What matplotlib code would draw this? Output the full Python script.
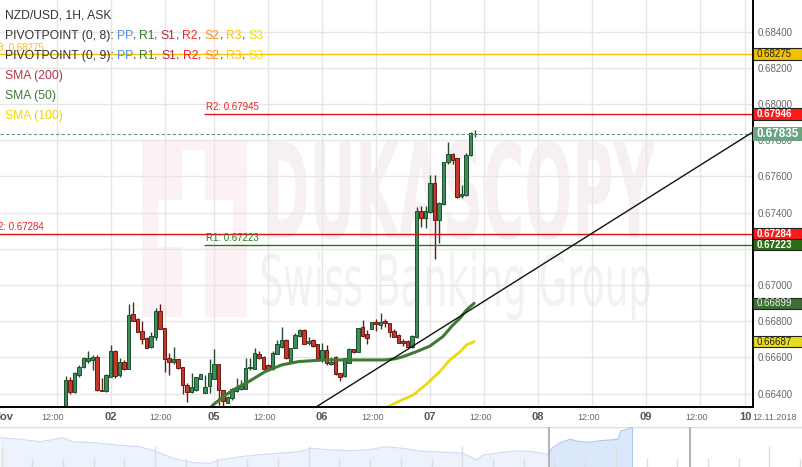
import matplotlib
matplotlib.use('Agg')
import matplotlib.pyplot as plt
from matplotlib.patches import Rectangle, PathPatch
from matplotlib.textpath import TextPath
from matplotlib.font_manager import FontProperties
from matplotlib.transforms import Affine2D
import numpy as np

plt.rcParams['font.family'] = ['Liberation Sans', 'DejaVu Sans']

# ---------------- data ----------------
# hourly candles, x = trading hours since 01 Nov 00:00 (weekend compressed)
candle_hours = list(range(14, 106))
opens = [0.66299, 0.66476, 0.66411, 0.66503, 0.66546, 0.66580, 0.66588, 0.66602, 0.66422, 0.66413,
         0.66494, 0.66636, 0.66501, 0.66575, 0.66534, 0.66840, 0.66811, 0.66748, 0.66706, 0.66656,
         0.66711, 0.66857, 0.66761, 0.66595, 0.66576, 0.66590, 0.66549, 0.66446, 0.66411, 0.66420,
         0.66479, 0.66402, 0.66442, 0.66479, 0.66563, 0.66420, 0.66348, 0.66374, 0.66416, 0.66424,
         0.66427, 0.66540, 0.66538, 0.66621, 0.66603, 0.66558, 0.66535, 0.66621, 0.66656, 0.66697,
         0.66580, 0.66651, 0.66719, 0.66752, 0.66678, 0.66697, 0.66674, 0.66586, 0.66641, 0.66562,
         0.66601, 0.66516, 0.66498, 0.66571, 0.66645, 0.66629, 0.66767, 0.66730, 0.66756, 0.66794,
         0.66779, 0.66801, 0.66792, 0.66748, 0.66724, 0.66691, 0.66688, 0.66656, 0.66711, 0.67411,
         0.67369, 0.67405, 0.67562, 0.67360, 0.67448, 0.67682, 0.67723, 0.67701, 0.67493, 0.67498,
         0.67719, 0.67832]
highs = [0.66498, 0.66490, 0.66521, 0.66557, 0.66600, 0.66636, 0.66612, 0.66613, 0.66488, 0.66506,
         0.66669, 0.66641, 0.66595, 0.66586, 0.66894, 0.66907, 0.66817, 0.66799, 0.66711, 0.66742,
         0.66872, 0.66894, 0.66761, 0.66626, 0.66659, 0.66594, 0.66549, 0.66457, 0.66516, 0.66492,
         0.66508, 0.66503, 0.66589, 0.66644, 0.66563, 0.66420, 0.66387, 0.66431, 0.66485, 0.66476,
         0.66598, 0.66598, 0.66654, 0.66636, 0.66608, 0.66563, 0.66636, 0.66695, 0.66770, 0.66700,
         0.66651, 0.66734, 0.66756, 0.66755, 0.66711, 0.66700, 0.66674, 0.66678, 0.66669, 0.66604,
         0.66608, 0.66516, 0.66595, 0.66651, 0.66645, 0.66761, 0.66807, 0.66752, 0.66794, 0.66811,
         0.66843, 0.66811, 0.66792, 0.66756, 0.66730, 0.66700, 0.66697, 0.66724, 0.67430, 0.67438,
         0.67438, 0.67608, 0.67608, 0.67461, 0.67682, 0.67793, 0.67729, 0.67704, 0.67554, 0.67729,
         0.67847, 0.67856]
lows = [0.66288, 0.66396, 0.66405, 0.66494, 0.66542, 0.66571, 0.66532, 0.66416, 0.66412, 0.66409,
        0.66490, 0.66486, 0.66494, 0.66531, 0.66534, 0.66803, 0.66742, 0.66675, 0.66650, 0.66650,
        0.66696, 0.66756, 0.66521, 0.66503, 0.66564, 0.66537, 0.66398, 0.66356, 0.66402, 0.66417,
        0.66478, 0.66402, 0.66403, 0.66479, 0.66337, 0.66328, 0.66347, 0.66365, 0.66409, 0.66420,
        0.66424, 0.66531, 0.66535, 0.66590, 0.66531, 0.66526, 0.66530, 0.66621, 0.66651, 0.66590,
        0.66577, 0.66651, 0.66715, 0.66672, 0.66669, 0.66656, 0.66586, 0.66577, 0.66558, 0.66558,
        0.66503, 0.66472, 0.66494, 0.66571, 0.66623, 0.66629, 0.66715, 0.66672, 0.66756, 0.66748,
        0.66756, 0.66767, 0.66715, 0.66711, 0.66678, 0.66665, 0.66651, 0.66651, 0.66706, 0.67319,
        0.67314, 0.67396, 0.67142, 0.67234, 0.67442, 0.67668, 0.67668, 0.67480, 0.67482, 0.67493,
        0.67713, 0.67816]
closes = [0.66476, 0.66411, 0.66513, 0.66546, 0.66595, 0.66599, 0.66602, 0.66420, 0.66414, 0.66501,
          0.66636, 0.66498, 0.66575, 0.66534, 0.66835, 0.66803, 0.66742, 0.66700, 0.66650, 0.66718,
          0.66857, 0.66756, 0.66590, 0.66576, 0.66590, 0.66540, 0.66448, 0.66411, 0.66435, 0.66490,
          0.66507, 0.66435, 0.66515, 0.66563, 0.66420, 0.66357, 0.66383, 0.66423, 0.66438, 0.66440,
          0.66543, 0.66547, 0.66623, 0.66596, 0.66535, 0.66536, 0.66627, 0.66673, 0.66697, 0.66595,
          0.66651, 0.66724, 0.66752, 0.66674, 0.66693, 0.66664, 0.66595, 0.66641, 0.66568, 0.66577,
          0.66509, 0.66490, 0.66595, 0.66645, 0.66629, 0.66761, 0.66719, 0.66706, 0.66794, 0.66783,
          0.66797, 0.66788, 0.66742, 0.66715, 0.66682, 0.66677, 0.66655, 0.66719, 0.67411, 0.67369,
          0.67411, 0.67562, 0.67360, 0.67452, 0.67682, 0.67723, 0.67692, 0.67489, 0.67504, 0.67719,
          0.67842, 0.67835]

sma50_hours = [45.7, 46.8, 49.0, 51.3, 54.7, 58.4, 62.1, 65.8, 71.4, 84.9, 87.2, 89.0, 92.1,
               95.0, 97.9, 99.9, 101.7, 103.1, 104.8]
sma50_vals = [0.66310, 0.66338, 0.66382, 0.66421, 0.66466, 0.66522, 0.66559, 0.66577, 0.66586,
              0.66586, 0.66592, 0.66604, 0.66633, 0.66663, 0.66716, 0.66774, 0.66818, 0.66862, 0.66899]
sma100_hours = [84.6, 85.7, 88.3, 91.3, 94.3, 97.2, 99.4, 101.7, 103.1, 104.8]
sma100_vals = [0.66310, 0.66328, 0.66360, 0.66393, 0.66454, 0.66522, 0.66586, 0.66632, 0.66669, 0.66687]

trend_hours = [69.8, 166.84]
trend_vals = [0.66328, 0.67847]

# pivot levels: value, colour, start hour, label
pivot_vals = [0.68275, 0.67945, 0.67284, 0.67223]
pivot_colors = ['#f5c000', '#ee1111', '#dd1111', '#2a7a1a']
pivot_start = [-1.0, 44.7, -1.0, 44.7]
pivot_labels = ['R3: 0.68275', 'R2: 0.67945', 'R2: 0.67284', 'R1: 0.67223']

current_price = 0.67835

y_ticks = [0.664, 0.666, 0.668, 0.670, 0.674, 0.676, 0.678, 0.680, 0.682, 0.684]
grid_y = [0.664, 0.666, 0.668, 0.670, 0.672, 0.674, 0.676, 0.678, 0.680, 0.682, 0.684]
day_hours = [0, 24, 47, 71, 95, 119, 143, 165]
day_labels = ['Nov', '02', '05', '06', '07', '08', '09', '10']
half_hours = [12, 36, 59, 83, 107, 131, 155]
half_label = '12:00'

box_texts = ['0.68275', '0.67946', '0.67284', '0.67223', '0.66899', '0.66687']
box_faces = ['#f5c000', '#ff1a1a', '#ff1a1a', '#2c6e14', '#3f6e35', '#e8dc1c']
box_text_colors = ['#222222', 'white', 'white', 'white', '#f0f0f0', '#222222']

nav_pos = [0, 20, 40, 50, 62, 73, 93, 117, 140, 157, 173, 193, 210, 220, 240, 257, 277, 300, 310, 333,
           353, 373, 383, 400, 420, 440, 462, 477, 483, 500, 517, 533, 548, 552, 560, 570, 580, 590, 600, 610,
           618, 621, 627, 632]
nav_val = [29.3, 27.7, 25.3, 27.0, 29.3, 25.3, 24.3, 22.0, 20.3, 15.3, 8.7, 4.3, 3.7, 7.0, 10.3, 12.0, 13.7, 15.3, 18.7, 17.0,
           16.3, 17.7, 20.3, 19.0, 16.0, 15.0, 14.0, 7.0, 12.0, 14.3, 16.3, 15.3, 12.7, 18.7, 24.3, 27.7, 25.3, 24.7, 26.3, 27.0,
           27.7, 36.0, 37.7, 39.3]

# ---------------- figure ----------------
W, H = 803, 467
fig = plt.figure(figsize=(W / 100, H / 100), dpi=100)
fig.patch.set_facecolor('white')
pxT = Affine2D().scale(1.0 / W, -1.0 / H).translate(0, 1) + fig.transFigure

# watermark (decorative)
fig.add_artist(Rectangle((142, 140), 105, 177, transform=pxT, facecolor='#fcf1f3', edgecolor='none', zorder=-2))
fig.add_artist(Rectangle((182, 150), 23, 167, transform=pxT, facecolor='white', edgecolor='none', zorder=-1.9))
fig.add_artist(Rectangle((158, 200), 75, 47, transform=pxT, facecolor='white', edgecolor='none', zorder=-1.9))


def fit_text(s, box, color, weight='normal', z=-1.5):
    tp = TextPath((0, 0), s, size=100, prop=FontProperties(family='DejaVu Sans', weight=weight))
    ext = tp.get_extents()
    x0, y0, x1, y1 = box
    sx = (x1 - x0) / ext.width
    sy = (y1 - y0) / ext.height
    tr = Affine2D().translate(-ext.x0, -ext.y0).scale(sx, -sy).translate(x0, y1) + pxT
    fig.add_artist(PathPatch(tp, transform=tr, facecolor=color, edgecolor='none', zorder=z))


fit_text('DUKASCOPY', (268, 140, 655, 240), '#f7f0f2', weight='bold')
fit_text('Swiss Banking Group', (262, 252, 650, 320), '#f2f2f2')

ax = fig.add_axes([0, 60 / H, 753.3 / W, 407 / H])
ax.patch.set_visible(False)
ax.set_xlim(-0.556, 166.84)
ax.set_ylim(0.66326, 0.68575)
for s in ['left', 'top']:
    ax.spines[s].set_visible(False)
for s in ['bottom', 'right']:
    ax.spines[s].set_color('black')
    ax.spines[s].set_linewidth(1.4)
    ax.spines[s].set_zorder(10)

ax.set_yticks(grid_y)
ax.set_yticklabels([f'{v:.5f}' if v in y_ticks else '' for v in grid_y])
ax.yaxis.tick_right()
ax.tick_params(axis='y', length=0, pad=3.4, labelsize=7, labelcolor='#666666')
ax.set_xticks(sorted(half_hours + day_hours[1:]))
ax.tick_params(axis='x', length=0, labelbottom=False)
ax.grid(True, color='#e6e6e6', lw=1)
ax.set_axisbelow(True)

# candles
up_face, up_edge = '#3f8c5a', '#1d4f2e'
dn_face, dn_edge = '#c4392a', '#6b1a12'
for h, o, hi, lo, c in zip(candle_hours, opens, highs, lows, closes):
    up = c >= o
    fc, ec = (up_face, up_edge) if up else (dn_face, dn_edge)
    ax.vlines(h, lo, hi, color=ec, lw=1, zorder=3)
    ax.add_patch(Rectangle((h - 0.37, min(o, c)), 0.74, max(abs(c - o), 0.000025),
                           facecolor=fc, edgecolor=ec, lw=0.7, zorder=4))

# pivot lines
for v, col, st in zip(pivot_vals, pivot_colors, pivot_start):
    ax.plot([st, 166.84], [v, v], color=col, lw=1, zorder=5, solid_capstyle='butt')

# pivot labels
ax.annotate(pivot_labels[0], xy=(43.5 / 753.3, pivot_vals[0]), xycoords=ax.get_yaxis_transform(),
            xytext=(0, 1.2), textcoords='offset points', ha='right', va='bottom',
            fontsize=7, color='#f5b000', alpha=0.85, zorder=6)
ax.annotate(pivot_labels[2], xy=(43.5 / 753.3, pivot_vals[2]), xycoords=ax.get_yaxis_transform(),
            xytext=(0, 1.2), textcoords='offset points', ha='right', va='bottom',
            fontsize=7, color='#ee2222', zorder=6)
ax.annotate(pivot_labels[1], xy=(pivot_start[1], pivot_vals[1]), xycoords='data',
            xytext=(1.5, 1.2), textcoords='offset points', ha='left', va='bottom',
            fontsize=7, color='#ee2222', zorder=6)
ax.annotate(pivot_labels[3], xy=(pivot_start[3], pivot_vals[3]), xycoords='data',
            xytext=(1.5, 1.2), textcoords='offset points', ha='left', va='bottom',
            fontsize=7, color='#2a7a1a', zorder=6)

# current price dashed line
ax.axhline(current_price, color='#6b9a7d', lw=0.8, ls=(0, (3, 2)), zorder=5)

# trend line and SMAs
ax.plot(trend_hours, trend_vals, color='#111111', lw=1, zorder=6)
ax.plot(sma50_hours, sma50_vals, color='#3f7a35', lw=2.2, zorder=5, solid_capstyle='round')
ax.plot(sma100_hours, sma100_vals, color='#e8dc10', lw=2, zorder=5, solid_capstyle='round')

# right-side value boxes
yT = ax.get_yaxis_transform()
bx0 = 1.0
bw = (802 - 753.3) / 753.3
pp = 5.525e-5
for txt, fc, tc in zip(box_texts, box_faces, box_text_colors):
    v = float(txt)
    ax.add_patch(Rectangle((bx0, v - 5.8 * pp), bw, 11.6 * pp, transform=yT, facecolor=fc,
                           edgecolor='#222222', lw=0.8, clip_on=False, zorder=20))
    ax.text(756.5 / 753.3, v, txt, transform=yT, fontsize=7, color=tc, va='center', ha='left',
            fontweight='bold' if tc == 'white' else 'normal', zorder=21, clip_on=False)
ax.add_patch(Rectangle((bx0, current_price - 7.1 * pp), bw, 14.2 * pp, transform=yT, facecolor='#6aa580',
                       edgecolor='none', clip_on=False, zorder=20))
ax.text(756.5 / 753.3, current_price, f'{current_price:.5f}', transform=yT, fontsize=8.4, color='white',
        fontweight='bold', va='center', ha='left', zorder=21, clip_on=False)

# date axis labels
xT = ax.get_xaxis_transform()
ly = (407 - 417.5) / 407
for hh, lab in zip(day_hours, day_labels):
    if lab == '10':
        ax.text(hh + 1.5, ly, lab, transform=xT, fontsize=8, fontweight='bold', color='#555555',
                ha='right', va='center', clip_on=False)
    else:
        ax.text(hh, ly, lab, transform=xT, fontsize=8, fontweight='bold', color='#555555',
                ha='center', va='center', clip_on=False)
for hh in half_hours:
    ax.text(hh - 0.8, ly, half_label, transform=xT, fontsize=6.5, color='#666666',
            ha='center', va='center', clip_on=False)
ax.text(day_hours[-1] + 1.6, ly, '12.11.2018', transform=xT, fontsize=6.5, color='#666666',
        ha='left', va='center', clip_on=False)

# legend texts
renderer = fig.canvas.get_renderer()


def text_width(s, size):
    t = fig.text(0, 0, s, fontsize=size)
    w = t.get_window_extent(renderer).width
    t.remove()
    return w


def seg_text(x_px, y_px, segs, size=8.7):
    prefix = ''
    base = text_width('|', size)
    for s, c in segs:
        off = text_width(prefix + '|', size) - base if prefix else 0
        fig.text(x_px + off, y_px, s, color=c, fontsize=size, va='center', ha='left',
                 transform=pxT, zorder=30)
        prefix += s


dark = '#333333'
pv_cols = [('PP', '#4a8fe0'), ('R1', '#3a7d2a'), ('S1', '#b22a3a'), ('R2', '#ff2020'),
           ('S2', '#ff8a1a'), ('R3', '#ffc000'), ('S3', '#f0e000')]


def pivot_segs(head):
    segs = [(head, dark)]
    for k, (n, c) in enumerate(pv_cols):
        segs.append((n, c))
        if k < len(pv_cols) - 1:
            segs.append((', ', dark))
    return segs


seg_text(5, 15.5, [('NZD/USD, 1H, ASK', dark)])
seg_text(5, 36, pivot_segs('PIVOTPOINT (0, 8): '))
seg_text(5, 56, pivot_segs('PIVOTPOINT (0, 9): '))
seg_text(5, 76, [('SMA (200)', '#b0354a')])
seg_text(5, 96.5, [('SMA (50)', '#3d7a3d')])
seg_text(5, 116.5, [('SMA (100)', '#f0d800')])

# navigator
nav = fig.add_axes([0, 0, 1, 40 / H])
nav.set_xlim(0, W)
nav.set_ylim(0, 40)
nav.axis('off')
nav.axhline(40, color='#dddddd', lw=1)
npos = np.array(nav_pos, dtype=float)
nval = np.array(nav_val)
split = nav_pos.index(548)
nav.fill_between(npos[:split + 1], nval[:split + 1], 0, color='#edf3fd', lw=0)
nav.plot(npos[:split + 1], nval[:split + 1], color='#cddcf5', lw=0.8)
nav.fill_between(npos[split:], nval[split:], 0, color='#dbe7fb', lw=0)
nav.plot(npos[split:], nval[split:], color='#a9c6f2', lw=0.8)
nav.plot([npos[-1], npos[-1]], [0, nval[-1]], color='#a9c6f2', lw=0.8)
for d in range(0, 27):
    xx = 1.6 + 30.71 * d
    tall = (d % 5 == 0)
    nav.plot([xx, xx], [0, 20 if tall else 8], color='#dddddd', lw=1)
for xx in [549, 690]:
    nav.plot([xx, xx], [0, 40], color='#b5b5b5', lw=1.5)

fig.savefig('out.png', dpi=100)
